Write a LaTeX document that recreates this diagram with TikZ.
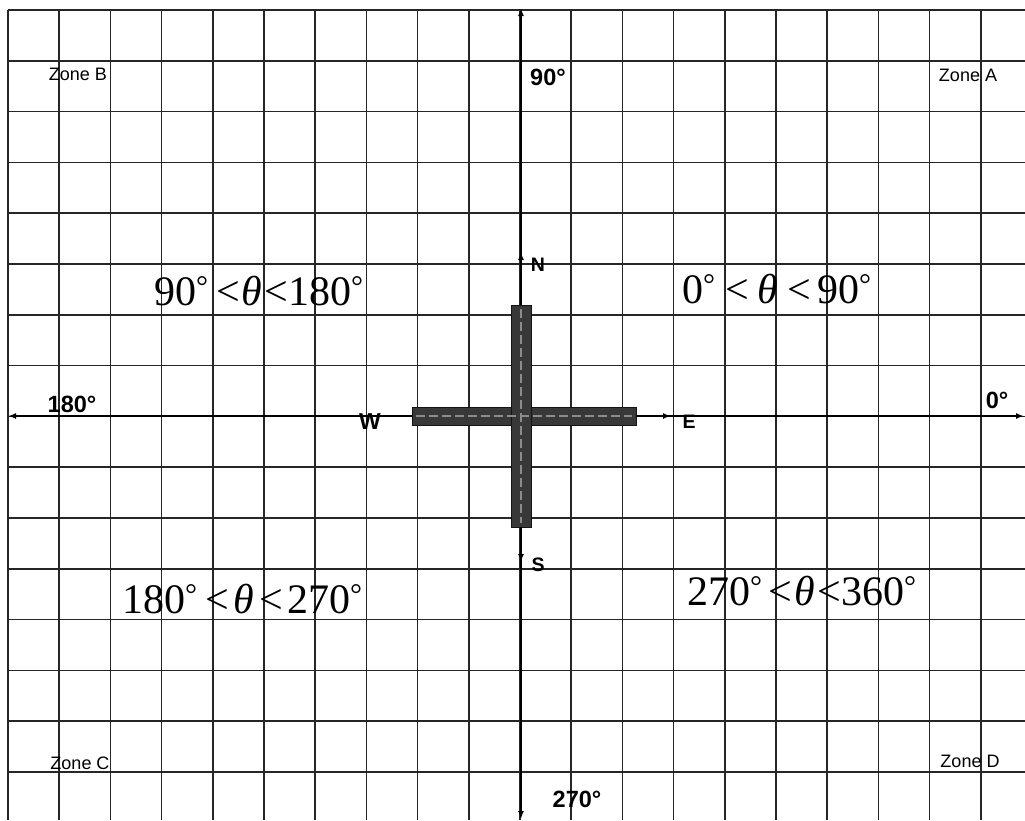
\documentclass[tikz,border=0pt]{standalone}
\usepackage{fontspec}
\setmainfont{Liberation Serif}
\newfontfamily\arialf{Liberation Sans}
\usetikzlibrary{arrows.meta}
\newcommand\dg{\raisebox{9pt}{\fontsize{30}{30}\selectfont °}}
\newcommand\thet{\textit{θ}}
\tikzset{
  gridline/.style={line width=1.7pt, draw=black!85},
  axisline/.style={line width=1.7pt, draw=black, -{Latex[length=8pt,width=6pt]}},
  zonelbl/.style={font=\arialf\fontsize{18}{18}\selectfont, inner sep=0pt},
  anglbl/.style={font=\arialf\bfseries\fontsize{23.5}{23.5}\selectfont, inner sep=0pt},
  dirlbl/.style={font=\arialf\bfseries\fontsize{19.5}{19.5}\selectfont, inner sep=0pt},
  rangelbl/.style={font=\fontsize{42}{42}\selectfont, inner sep=0pt, anchor=base west},
  bar/.style={fill=black!78, draw=black!92, line width=0.8pt, inner sep=0pt},
  barcenter/.style={draw=black!45, line width=1.5pt, dash pattern=on 9pt off 4pt},
}
\begin{document}
\begin{tikzpicture}[x=1pt, y=-1pt]
\useasboundingbox (0,0) rectangle (1025,820);
\fill[white] (0,0) rectangle (1025,820);
% grid
\foreach \i in {0,...,19} {
  \draw[gridline] ({8+51.2*\i},10) -- ({8+51.2*\i},820);
}
\foreach \j in {0,...,15} {
  \draw[gridline] (8,{10+50.8*\j}) -- (1025,{10+50.8*\j});
}
% axes
\coordinate (origin) at (521,416);
\coordinate (topend) at (521,8);
\coordinate (botend) at (521,819);
\coordinate (leftend) at (8,416);
\coordinate (rightend) at (1024,416);
\draw[axisline] (origin) -- (topend);
\draw[axisline] (origin) -- (botend);
\draw[axisline] (origin) -- (leftend);
\draw[axisline] (origin) -- (rightend);
% cross
\node[bar, minimum width=224pt, minimum height=18pt] (hbar) at (524,416) {};
\node[bar, minimum width=20pt, minimum height=222pt] (vbar) at (521,416) {};
\draw[barcenter] ([xshift=4pt]hbar.west) -- ([xshift=-4pt]hbar.east);
\draw[barcenter] ([yshift=-4pt]vbar.north) -- ([yshift=4pt]vbar.south);
% direction arrows
\coordinate (ntip) at (521,252);
\coordinate (stip) at (521,562);
\coordinate (etip) at (671,416);
\draw[axisline] (vbar.north) -- (ntip);
\draw[axisline] (vbar.south) -- (stip);
\draw[axisline] (hbar.east) -- (etip);
% direction labels
\node[dirlbl] (N) at (538,265) {N};
\node[dirlbl] (S) at (538,565) {S};
\node[dirlbl] (E) at (689,422) {E};
\node[dirlbl, font=\arialf\bfseries\fontsize{23}{23}\selectfont] (W) at (370,422) {W};
% angle labels
\node[anglbl] (a90) at (548,77) {90°};
\node[anglbl] (a270) at (577,799) {270°};
\node[anglbl] (a180) at (72,404) {180°};
\node[anglbl] (a0) at (997,400) {0°};
% zone labels
\node[zonelbl] (zoneB) at (78,74) {Zone B};
\node[zonelbl] (zoneA) at (968,75) {Zone A};
\node[zonelbl] (zoneC) at (80,763) {Zone C};
\node[zonelbl] (zoneD) at (970,761) {Zone D};
% ranges
\node[rangelbl] (rB) at (154,305) {90\dg\hspace{8pt}<\hspace{2pt}\thet\hspace{2pt}<180\dg};
\node[rangelbl] (rA) at (682,303) {0\dg\hspace{10pt}<\hspace{9pt}\thet\hspace{9pt}<\hspace{6pt}90\dg};
\node[rangelbl] (rC) at (122,613) {180\dg\hspace{8pt}<\hspace{5pt}\thet\hspace{5pt}<\hspace{4pt}270\dg};
\node[rangelbl] (rD) at (687,605) {270\dg\hspace{6pt}<\hspace{3pt}\thet\hspace{2pt}<360\dg};
\end{tikzpicture}
\end{document}
